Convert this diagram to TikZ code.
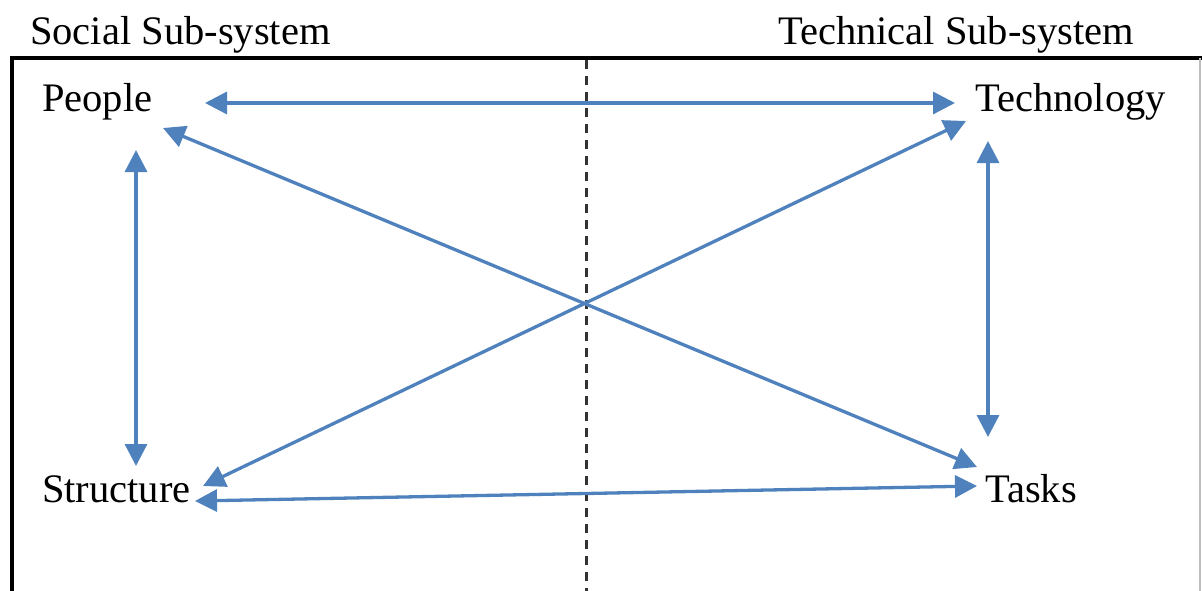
\documentclass[tikz,border=0pt]{standalone}
\usepackage{fontspec}
\setmainfont{Liberation Serif}
\usetikzlibrary{arrows.meta}
\definecolor{linkblue}{RGB}{79,129,189}
\begin{document}
\begin{tikzpicture}[x=1pt,y=-1pt,
  label/.style={anchor=base west,inner sep=0pt,font=\fontsize{40.5}{42}\selectfont},
  link/.style={draw=linkblue,line width=3.3pt,
    {Triangle[length=22pt,width=22pt]}-{Triangle[length=22pt,width=22pt]}},
  frame/.style={draw=black,line width=3.5pt}]
\useasboundingbox (0,0) rectangle (1202,591);
% headings
\node[label] (soc) at (30,45) {Social Sub-system};
\node[label] (tec) at (778,45) {Technical Sub-system};
% frame and divider
\draw[frame] (12,591) -- (12,58) -- (1202,58);
\draw[gray!50,line width=1.2pt] (1200,58) -- (1200,591);
\draw[black!80,line width=3pt,dash pattern=on 9pt off 7pt] (586,60) -- (586,591);
% element labels
\node[label] (people) at (42,112) {People};
\node[label] (techn) at (975,112) {Technology};
\node[label] (struct) at (42,502) {Structure};
\node[label] (tasks) at (985,502) {Tasks};
% arrow ends
\coordinate (pR) at (205,103);
\coordinate (tL) at (955,103);
\coordinate (pD) at (163,128);
\coordinate (kU) at (977,467);
\coordinate (tD) at (966,121);
\coordinate (sU) at (203,486);
\coordinate (pB) at (136,150);
\coordinate (sT) at (136,466);
\coordinate (tB) at (988,141);
\coordinate (kT) at (988,437);
\coordinate (sR) at (195,501);
\coordinate (kL) at (977,486);
% links
\draw[link] (pR) -- (tL);
\draw[link] (pD) -- (kU);
\draw[link] (tD) -- (sU);
\draw[link] (pB) -- (sT);
\draw[link] (tB) -- (kT);
\draw[link] (sR) -- (kL);
\end{tikzpicture}
\end{document}
